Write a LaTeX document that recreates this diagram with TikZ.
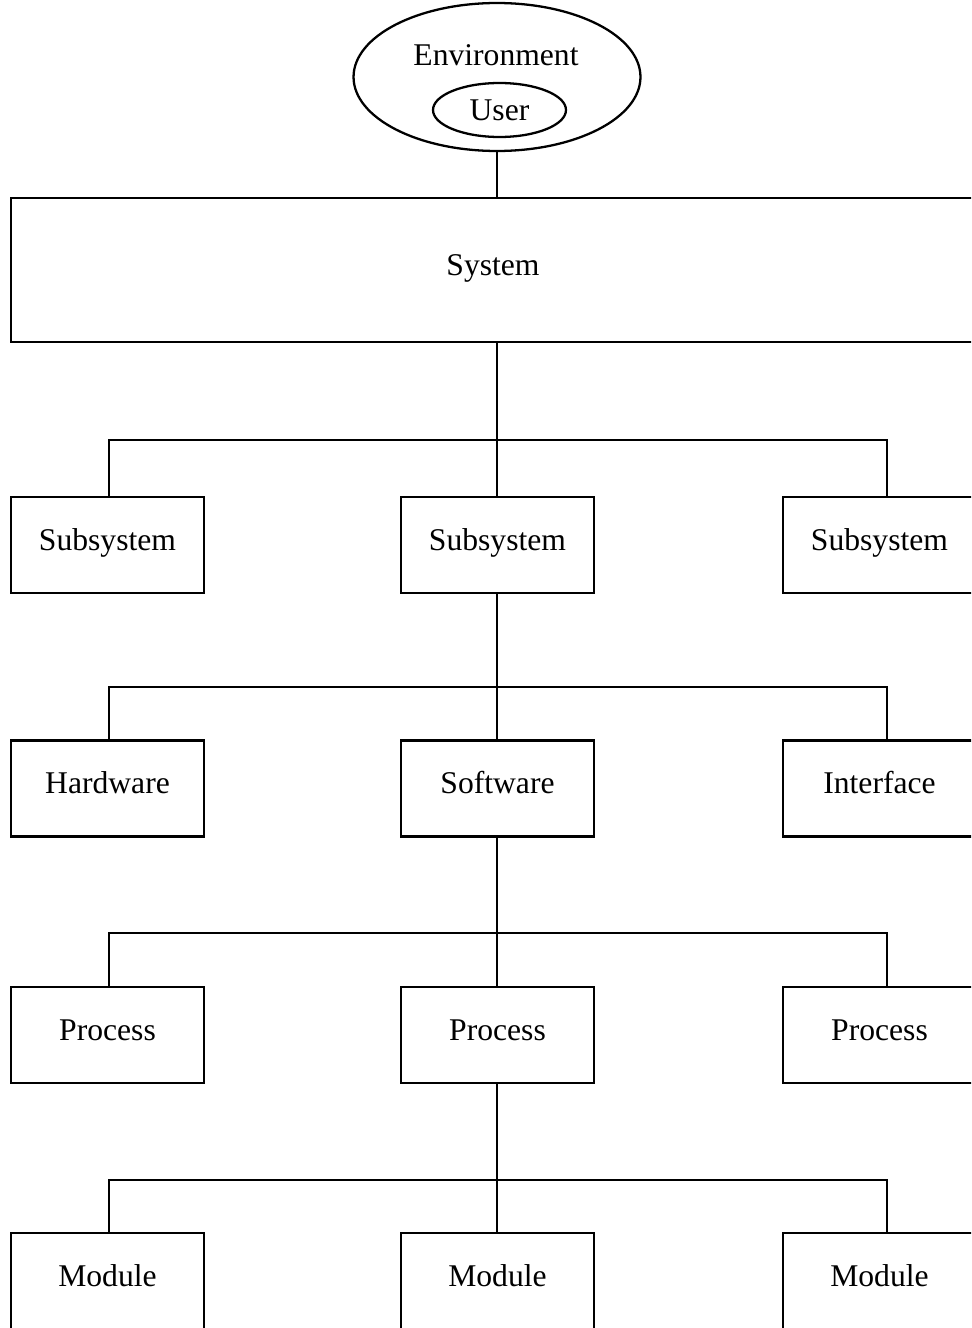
\documentclass[tikz,border=0pt]{standalone}
\usepackage{fontspec}
\setmainfont{Liberation Serif}
\usetikzlibrary{shapes.geometric}
\tikzset{
	blok/.style={draw,rectangle,line width=1.3pt,minimum width=3.86cm,minimum height=1.92cm,inner sep=0pt,text height=12pt,text depth=6pt,font=\fontsize{18}{20}\selectfont},
	oval/.style={draw,ellipse,line width=1.3pt,inner sep=0pt},
	tak/.style={line width=1.3pt}
}
\begin{document}
\begin{tikzpicture}[x=0.02cm,y=-0.02cm]
		\clip (0,0) rectangle (971,1328);
		% environment with user inside
		\node[oval,minimum width=5.74cm,minimum height=2.96cm] (env) at (497,77) {};
		\node[font=\fontsize{18}{20}\selectfont] (envtxt) at (496,55) {Environment};
		\node[oval,minimum width=2.66cm,minimum height=1.08cm,font=\fontsize{18}{20}\selectfont] (user) at (499.5,110) {User};
		\node[blok,minimum width=19.28cm,minimum height=2.88cm] (sys) at (493,270) {System};
		\draw[tak] (env.south) -- (sys.north -| env.south);
		% three levels of boxes below
		\node[blok] (sub1) at (107.5,545) {Subsystem};
		\node[blok] (sub2) at (497.5,545) {Subsystem};
		\node[blok] (sub3) at (879.5,545) {Subsystem};
		\node[blok] (hw) at (107.5,788.5) {Hardware};
		\node[blok] (sw) at (497.5,788.5) {Software};
		\node[blok] (ifc) at (879.5,788.5) {Interface};
		\node[blok] (pr1) at (107.5,1035) {Process};
		\node[blok] (pr2) at (497.5,1035) {Process};
		\node[blok] (pr3) at (879.5,1035) {Process};
		\node[blok] (mod1) at (107.5,1281) {Module};
		\node[blok] (mod2) at (497.5,1281) {Module};
		\node[blok] (mod3) at (879.5,1281) {Module};
		% forks
		\foreach \top/\a/\b/\c/\y in {sys/sub1/sub2/sub3/440,sub2/hw/sw/ifc/687,sw/pr1/pr2/pr3/933,pr2/mod1/mod2/mod3/1180}{
			\coordinate (f\top) at (497,\y);
			\draw[tak] (\top.south -| f\top) -- (\b.north -| f\top);
			\draw[tak] ([xshift=0.03cm]\a.north) |- (f\top) -| ([xshift=0.15cm]\c.north);
		}
		
		\end{tikzpicture}
\end{document}
